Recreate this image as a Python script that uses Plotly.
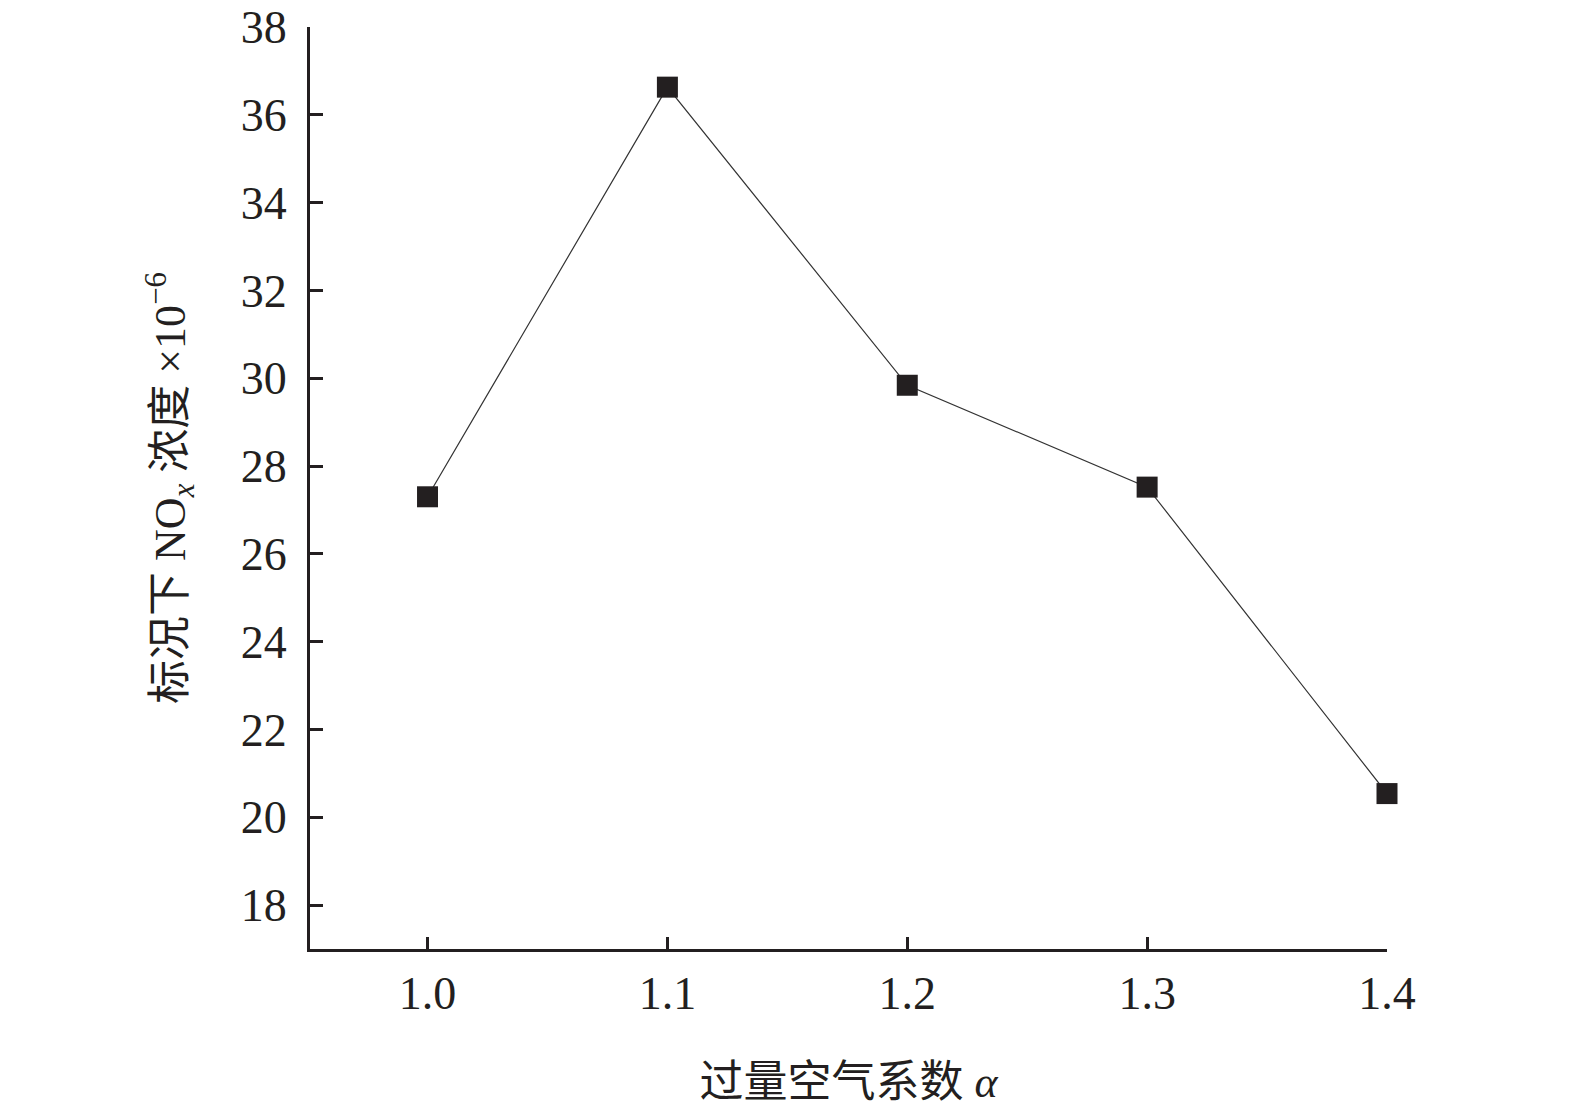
import plotly.graph_objects as go

alpha = [1.0, 1.1, 1.2, 1.3, 1.4]
nox = [27.30, 36.63, 29.84, 27.52, 20.54]
x_ticks = [1.0, 1.1, 1.2, 1.3, 1.4]
x_tick_text = ["1.0", "1.1", "1.2", "1.3", "1.4"]
y_ticks = [18, 20, 22, 24, 26, 28, 30, 32, 34, 36, 38]

INK = "#231f20"
FONT = "Liberation Serif, Times New Roman, Noto Sans CJK SC, serif"

fig = go.Figure()
fig.add_trace(go.Scatter(
    x=alpha, y=nox, mode="lines+markers",
    line=dict(color="#333333", width=1.2),
    marker=dict(symbol="square", size=21, color=INK),
    cliponaxis=False, showlegend=False,
))

fig.update_layout(
    width=1567, height=1103,
    margin=dict(l=302, r=188, t=19, b=162),
    paper_bgcolor="white", plot_bgcolor="white",
    font=dict(family=FONT, color=INK, size=44),
)
fig.update_xaxes(
    range=[0.951, 1.4], tickvals=x_ticks, ticktext=x_tick_text,
    automargin=False, ticklabeloverflow="allow",
    showgrid=False, zeroline=False,
    showline=True, linecolor=INK, linewidth=3,
    ticks="inside", ticklen=12, tickwidth=3, tickcolor=INK,
    ticklabelstandoff=2,
    tickfont=dict(size=46, family=FONT, color=INK),
    title=dict(text="过量空气系数 <i>α</i>", standoff=48,
               font=dict(size=44, family=FONT, color=INK)),
)
fig.update_yaxes(
    range=[17, 38], tickvals=y_ticks,
    automargin=False, ticklabeloverflow="allow",
    showgrid=False, zeroline=False,
    showline=True, linecolor=INK, linewidth=3,
    ticks="inside", ticklen=13, tickwidth=3, tickcolor=INK,
    ticklabelstandoff=11,
    tickfont=dict(size=46, family=FONT, color=INK),
    title=dict(text="标况下 NO<sub><i>x</i></sub> 浓度 ×10<sup>−6</sup>", standoff=42,
               font=dict(size=44, family=FONT, color=INK)),
)

fig.write_html("out.html")
